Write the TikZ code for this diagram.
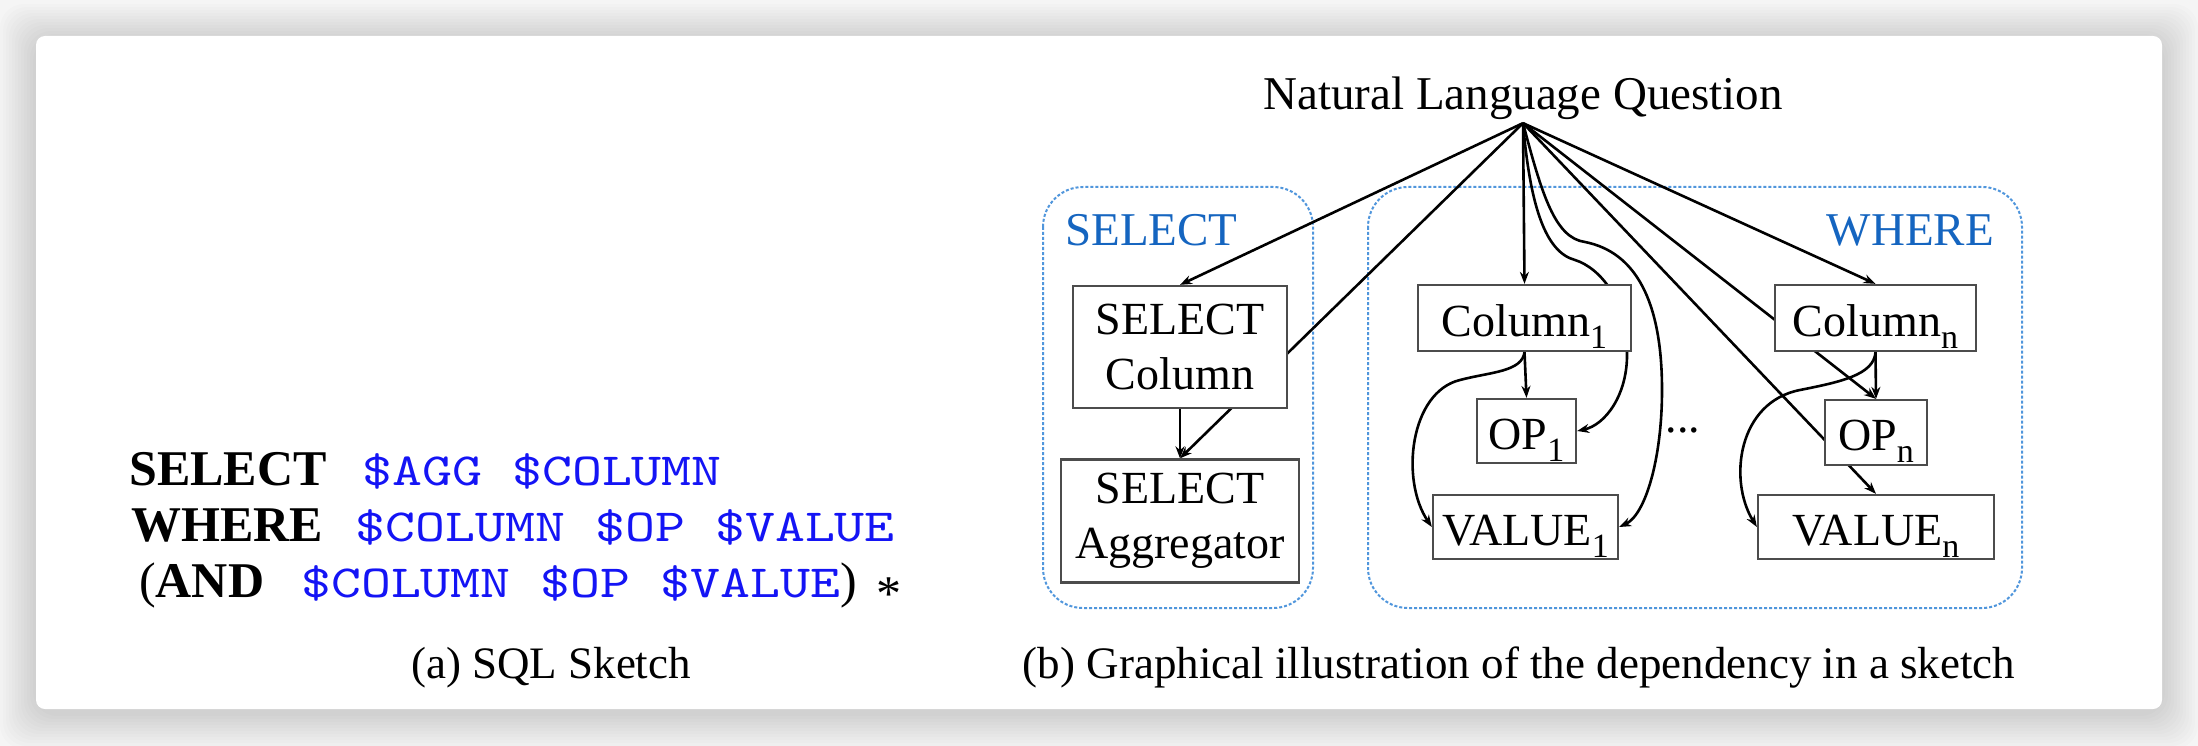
\documentclass[tikz,border=0pt]{standalone}
\usepackage{fontspec}
\setmainfont{Liberation Serif}
\newfontfamily\sqlfont{lmmono10-regular.otf}[FakeStretch=1.24]
\usetikzlibrary{arrows.meta}
\definecolor{sqlblue}{RGB}{20,20,245}
\definecolor{lblblue}{RGB}{21,101,192}
\definecolor{grpblue}{RGB}{80,150,220}
\newcommand{\subtxt}[1]{\raisebox{-12pt}{\fontsize{34}{34}\selectfont #1}}
\newcommand{\sqlpart}[1]{{\color{sqlblue}\fontsize{46}{56}\sqlfont\selectfont #1}}
\pgfdeclarelayer{background}
\pgfdeclarelayer{edges}
\pgfsetlayers{background,edges,main}
\begin{document}
\begin{tikzpicture}[x=1pt,y=-1pt,
boxbase/.style={draw=black!70,line width=2.3pt,fill=white,inner sep=2pt,font=\fontsize{46}{55}\selectfont},
depbox/.style={boxbase,align=center},
onebox/.style={boxbase,text height=36pt,text depth=0pt},
dep/.style={line width=2.6pt,-{Stealth[length=12pt,width=9pt]}},
grp/.style={draw=grpblue,line width=2pt,dash pattern=on 3pt off 2pt,rounded corners=40pt},
txt/.style={inner sep=0pt,anchor=base},
grplbl/.style={txt,text=lblblue,font=\fontsize{47}{56}\selectfont},
sqlline/.style={txt,anchor=base west,font=\fontsize{50}{56}\selectfont}]
\useasboundingbox (0,0) rectangle (2198,746);
\begin{pgfonlayer}{background}
\fill[black!4] (0,0) rectangle (2198,746);
\foreach \d in {36,33,...,3}
\fill[black,fill opacity=0.012,rounded corners=24pt] (36-\d,40-\d) rectangle (2162+\d,713+\d);
\fill[white,rounded corners=9pt] (36,36) rectangle (2162,709);
\draw[grp] (1043,187) rectangle (1313,608);
\draw[grp] (1368,187) rectangle (2022,608);
\end{pgfonlayer}
\node[sqlline] (sql1) at (129,485) {\textbf{SELECT}\hspace{36pt}\sqlpart{\$AGG \$COLUMN}};
\node[sqlline] (sql2) at (131,541) {\textbf{WHERE}\hspace{33pt}\sqlpart{\$COLUMN \$OP \$VALUE}};
\node[sqlline] (sql3) at (139,597) {(\textbf{AND}\hspace{37pt}\sqlpart{\$COLUMN \$OP \$VALUE})\hspace{20pt}\raisebox{-13pt}{*}};
\node[txt,font=\fontsize{45}{54}\selectfont] (capa) at (551,678) {(a) SQL Sketch};
\node[txt,font=\fontsize{45}{54}\selectfont] (capb) at (1519,678) {(b) Graphical illustration of the dependency in a sketch};
\node[txt,outer sep=3pt,font=\fontsize{47}{56}\selectfont] (nlq) at (1523,110) {Natural Language Question};
\node[grplbl,anchor=base west] (sellbl) at (1065,245) {SELECT};
\node[grplbl,anchor=base east] (wherelbl) at (1994,245) {WHERE};
\node[depbox,minimum width=214pt,minimum height=122pt] (selcol) at (1180,347) {SELECT\\Column};
\node[depbox,minimum width=238pt,minimum height=123pt] (selagg) at (1180,521) {SELECT\\Aggregator};
\node[onebox,minimum width=213pt,minimum height=66pt] (col1) at (1524.5,318) {Column\subtxt{1}};
\node[onebox,minimum width=201pt,minimum height=66pt] (coln) at (1875.5,318) {Column\subtxt{n}};
\node[onebox,minimum width=99pt,minimum height=64pt] (op1) at (1526.5,431) {OP\subtxt{1}};
\node[onebox,minimum width=102pt,minimum height=65pt] (opn) at (1876,432.5) {OP\subtxt{n}};
\node[onebox,minimum width=185pt,minimum height=64pt] (val1) at (1525.5,527) {VALUE\subtxt{1}};
\node[onebox,minimum width=236pt,minimum height=64pt] (valn) at (1876,527) {VALUE\subtxt{n}};
\node[txt,font=\fontsize{46}{55}\selectfont] (dots) at (1683,432) {...};
\begin{pgfonlayer}{edges}
\draw[dep] (nlq.south) -- (selcol.north);
\draw[dep] (nlq.south) -- (selagg.north);
\draw[dep] (nlq.south) -- (col1.north);
\draw[dep] (nlq.south) -- (coln.north);
\draw[dep] (nlq.south) -- (opn.north);
\draw[dep] (nlq.south) -- (valn.north);
\draw[dep] (nlq.south) .. controls (1530,205) and (1545,252) .. (1575,260) .. controls (1600,268) and (1627,300) .. (1627,352) .. controls (1628,395) and (1605,425) .. (op1.east);
\draw[dep] (nlq.south) .. controls (1542,195) and (1555,238) .. (1585,242) .. controls (1635,252) and (1662,300) .. (1662,390) .. controls (1662,460) and (1645,515) .. (val1.east);
\draw[dep] (selcol.south) -- (selagg.north);
\draw[dep] (col1.south) -- (op1.north);
\draw[dep] (coln.south) -- (opn.north);
\draw[dep] (col1.south) .. controls (1522,372) and (1490,372) .. (1460,380) .. controls (1410,392) and (1400,480) .. (val1.west);
\draw[dep] (coln.south) .. controls (1874,375) and (1840,382) .. (1800,390) .. controls (1738,402) and (1728,480) .. (valn.west);
\end{pgfonlayer}
\end{tikzpicture}
\end{document}
